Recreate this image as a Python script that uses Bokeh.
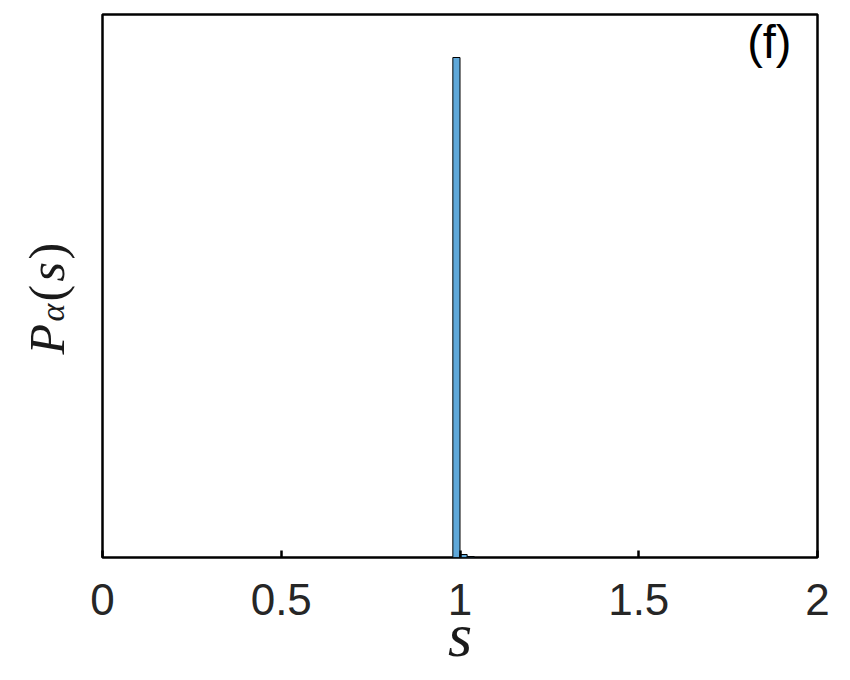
import math
from bokeh.plotting import figure
from bokeh.models import Label, FixedTicker, Range1d
from bokeh.core.properties import value
from bokeh.embed import file_html
from bokeh.resources import INLINE

# Histogram data (bin edges and density heights)
bin_left = [0.98, 1.00, 1.02]
bin_right = [1.00, 1.02, 1.04]
density = [50.0, 0.3, 0.1]

x_ticks = [0, 0.5, 1, 1.5, 2]
x_tick_labels = {0: "0", 0.5: "0.5", 1: "1", 1.5: "1.5", 2: "2"}

p = figure(width=842, height=672, output_backend="svg", toolbar_location=None,
           x_range=Range1d(0, 2), y_range=Range1d(0, 54.3),
           min_border_left=102, min_border_right=25, min_border_top=14, min_border_bottom=115)

p.quad(left=bin_left, right=bin_right, bottom=0, top=density,
       fill_color="#5fa8d9", line_color="black", line_width=1)

p.grid.visible = False
p.background_fill_color = "white"
p.border_fill_color = "white"
p.outline_line_color = "black"
p.outline_line_width = 2.5
p.outline_line_alpha = 1

xa = p.xaxis[0]
xa.ticker = FixedTicker(ticks=x_ticks)
xa.major_label_overrides = x_tick_labels
xa.major_label_text_font = "Liberation Sans"
xa.major_label_text_font_size = "44px"
xa.major_label_text_color = "#262626"
xa.major_label_standoff = 26
xa.axis_line_color = None
xa.major_tick_in = 7
xa.major_tick_out = 0
xa.major_tick_line_width = 2.5
xa.major_tick_line_color = "black"
xa.minor_tick_line_color = None
xa.axis_label = "s"
xa.axis_label_text_font = "Liberation Serif"
xa.axis_label_text_font_style = "italic"
xa.axis_label_text_font_size = "62px"
xa.axis_label_text_color = "#1a1a1a"
xa.axis_label_standoff = -17

ya = p.yaxis[0]
ya.ticker = FixedTicker(ticks=[])
ya.axis_line_color = None
ya.major_tick_line_color = None
ya.minor_tick_line_color = None
ya.major_label_text_font_size = "0px"

# Panel label
p.add_layout(Label(x=791, y=14, x_units="canvas", y_units="canvas", text="(f)",
                   text_font="Liberation Sans", text_font_style="normal",
                   text_font_size="47px", text_color="black",
                   text_align="right", text_baseline="top"))

# y-axis label P_alpha(s): text pieces anchored at the frame's bottom-left corner,
# shifted in screen pixels, rotated by 90 degrees, drawn on the overlay level
ylab_text = ["P", "α", "(", "s", ")"]
ylab_style = ["italic", "italic", "normal", "italic", "normal"]
ylab_size = ["50px", "34px", "50px", "50px", "50px"]
ylab_dx = [-56, -50, -56, -56, -56]
ylab_dy = [-203, -236, -256, -276, -298]
for t, st, sz, dx, dy in zip(ylab_text, ylab_style, ylab_size, ylab_dx, ylab_dy):
    p.text(x=[0], y=[0], text=[t], x_offset=dx, y_offset=dy, angle=math.pi / 2,
           text_font=value("Liberation Serif"), text_font_style=st,
           text_font_size=sz, text_color="#1a1a1a",
           text_align="left", text_baseline="alphabetic", level="overlay")

open("out.html", "w").write(file_html(p, INLINE))
